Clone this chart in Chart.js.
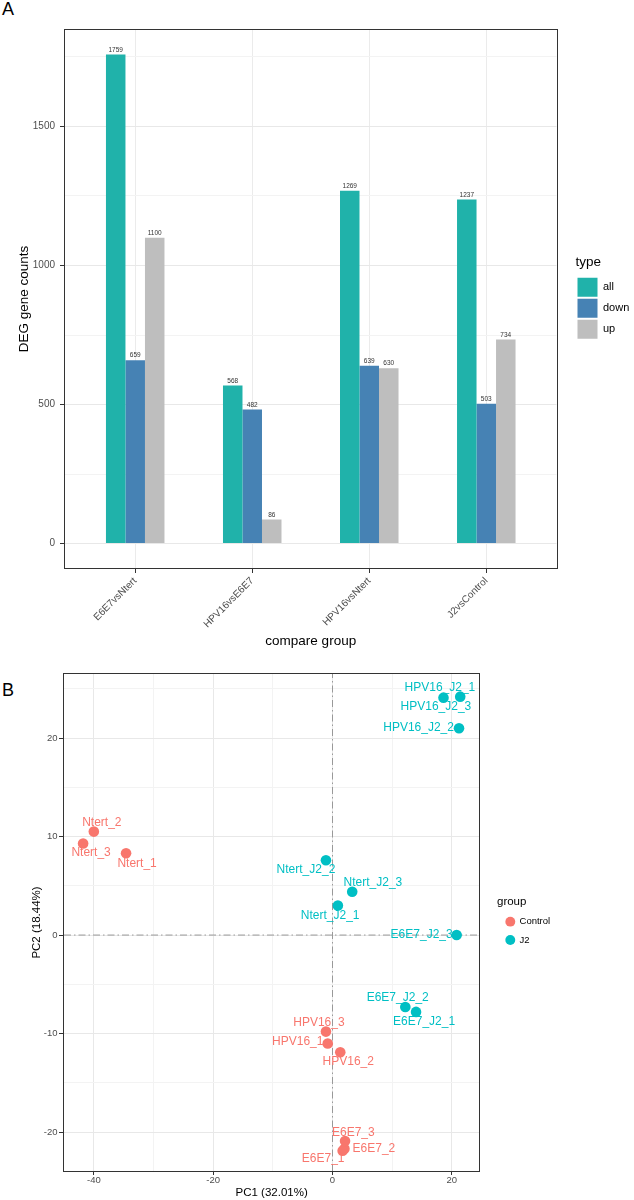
<!DOCTYPE html>
<html>
<head>
<meta charset="utf-8">
<script src="https://cdn.jsdelivr.net/npm/chart.js@4"></script>
<style>
	html, body { margin: 0; padding: 0; background: #fff; }
	body { width: 634px; height: 1200px; position: relative; overflow: hidden; font-family: 'Liberation Sans', Arial, sans-serif; }
	.panel-tag { position: absolute; left: 2px; font-size: 18px; line-height: 18px; color: #000; }
	#wrap-a { position: absolute; left: 0; top: 0; }
	#wrap-b { position: absolute; left: 0; top: 660px; }
</style>
</head>
<body>
<div class="panel-tag" style="top:0px">A</div>
<div class="panel-tag" style="top:681px">B</div>
<div id="wrap-a"><canvas id="deg-bars" width="634" height="655"></canvas></div>
<div id="wrap-b"><canvas id="pca" width="634" height="540"></canvas></div>
<script>
// A: DEG counts per comparison
const compareGroups = ["E6E7vsNtert", "HPV16vsE6E7", "HPV16vsNtert", "J2vsControl"];
const allCounts = [1759, 568, 1269, 1237];
const downCounts = [659, 482, 639, 503];
const upCounts = [1100, 86, 630, 734];
const countTicks = [0, 500, 1000, 1500];
const countMinorTicks = [250, 750, 1250, 1750];
const countRange = [-88, 1847];

// B: PCA
const controlSamples = ["Ntert_1", "Ntert_2", "Ntert_3", "HPV16_1", "HPV16_2", "HPV16_3", "E6E7_1", "E6E7_2", "E6E7_3"];
const controlPC1 = [-34.6, -40.0, -41.8, -0.8, 1.3, -1.1, 1.7, 2.0, 2.1];
const controlPC2 = [8.3, 10.5, 9.3, -11.0, -11.9, -9.8, -21.9, -21.7, -20.9];
const j2Samples = ["Ntert_J2_1", "Ntert_J2_2", "Ntert_J2_3", "HPV16_J2_1", "HPV16_J2_2", "HPV16_J2_3", "E6E7_J2_1", "E6E7_J2_2", "E6E7_J2_3"];
const j2PC1 = [0.9, -1.1, 3.3, 21.4, 21.2, 18.6, 14.0, 12.2, 20.8];
const j2PC2 = [3.0, 7.6, 4.4, 24.2, 21.0, 24.1, -7.8, -7.3, 0.0];
const pc1Ticks = [-40, -20, 0, 20];
const pc1MinorTicks = [-30, -10, 10];
const pc2Ticks = [-20, -10, 0, 10, 20];
const pc2MinorTicks = [-15, -5, 5, 15, 25];
const pc1Range = [-45.0, 24.6];
const pc2Range = [-23.95, 26.5];

// where the repelled text labels sit, in pixels from their point
const labelNudge = {
	Ntert_1: [11, 10], Ntert_2: [8, -9], Ntert_3: [8, 9.6],
	HPV16_1: [-30, -2], HPV16_2: [8, 9.6], HPV16_3: [-7, -9.4],
	E6E7_1: [-19.5, 8.3], E6E7_2: [29.5, 0], E6E7_3: [8.3, -8.7],
	Ntert_J2_1: [-7.7, 10.3], Ntert_J2_2: [-20, 9.7], Ntert_J2_3: [20.7, -9],
	HPV16_J2_1: [-20.3, -8.7], HPV16_J2_2: [-40.4, -0.7], HPV16_J2_3: [-7.6, 9.4],
	E6E7_J2_1: [8, 9.3], E6E7_J2_2: [-7.6, -9.4], E6E7_J2_3: [-35, 0]
};

Chart.defaults.font.family = "'Liberation Sans', Arial, sans-serif";
Chart.defaults.color = "#4d4d4d";
Chart.defaults.animation = false;

const fontStack = "'Liberation Sans', Arial, sans-serif";

const panelBorder = {
	id: "panelBorder",
	afterDraw(chart) {
		const { ctx, chartArea: a } = chart;
		ctx.save();
		ctx.strokeStyle = "#333";
		ctx.lineWidth = 1;
		const l = Math.round(a.left) - 0.5, t = Math.round(a.top) - 0.5;
		ctx.strokeRect(l, t, Math.round(a.right) - Math.round(a.left) + 1, Math.round(a.bottom) - Math.round(a.top) + 1);
		ctx.restore();
	}
};

const barValues = {
	id: "barValues",
	afterDatasetsDraw(chart) {
		const ctx = chart.ctx;
		ctx.save();
		ctx.font = "6.5px " + fontStack;
		ctx.fillStyle = "#333";
		ctx.textAlign = "center";
		ctx.textBaseline = "bottom";
		chart.data.datasets.forEach((ds, i) => {
			chart.getDatasetMeta(i).data.forEach((bar, j) => {
				ctx.fillText(ds.data[j].y, bar.x, bar.y - 1.5);
			});
		});
		ctx.restore();
	}
};

const sampleLabels = {
	id: "sampleLabels",
	afterDatasetsDraw(chart) {
		const ctx = chart.ctx;
		ctx.save();
		ctx.font = "12px " + fontStack;
		ctx.textAlign = "center";
		ctx.textBaseline = "middle";
		chart.data.datasets.forEach((ds, i) => {
			if (!ds.sampleNames) return;
			ctx.fillStyle = ds.backgroundColor;
			chart.getDatasetMeta(i).data.forEach((pt, j) => {
				const name = ds.sampleNames[j];
				const nudge = labelNudge[name] || [0, -10];
				ctx.fillText(name, pt.x + nudge[0], pt.y + nudge[1]);
			});
		});
		ctx.restore();
	}
};

const isMajor = (list) => (c) => c.tick && list.includes(c.tick.value);

function sortedTicks(major, minor) {
	return major.concat(minor).sort((a, b) => a - b).map(v => ({ value: v }));
}

// ---- A ----
const toPoints = (values) => values.map((v, i) => ({ x: i + 1, y: v }));

new Chart(document.querySelector("#deg-bars"), {
	type: "bar",
	data: {
		datasets: [{
			label: "all",
			data: toPoints(allCounts),
			backgroundColor: "#20B2AA"
		}, {
			label: "down",
			data: toPoints(downCounts),
			backgroundColor: "#4682B4"
		}, {
			label: "up",
			data: toPoints(upCounts),
			backgroundColor: "#BEBEBE"
		}]
	},
	options: {
		responsive: false,
		categoryPercentage: 0.5,
		barPercentage: 1,
		layout: { padding: { top: 30, right: 2.5, bottom: 0, left: 0 } },
		plugins: {
			tooltip: { enabled: false },
			legend: {
				position: "right",
				align: "start",
				maxWidth: 56,
				title: {
					display: true,
					text: "type",
					color: "#000",
					position: "start",
					font: { size: 13.5, lineHeight: 1 },
					padding: { top: 226, bottom: 6.3 }
				},
				labels: {
					boxWidth: 20,
					boxHeight: 19,
					padding: 2,
					color: "#000",
					font: { size: 11 }
				}
			}
		},
		scales: {
			x: {
				type: "linear",
				min: 0.4,
				max: 4.6,
				offset: false,
				afterBuildTicks: axis => { axis.ticks = compareGroups.map((g, i) => ({ value: i + 1 })); },
				afterFit: axis => { axis.height = 87; },
				grid: { offset: false, color: "#ebebeb", tickColor: "#333", tickLength: 5 },
				border: { display: false },
				ticks: {
					autoSkip: false,
					minRotation: 45,
					maxRotation: 45,
					padding: 2,
					color: "#4d4d4d",
					font: { size: 10 },
					callback: v => compareGroups[v - 1]
				},
				title: {
					display: true,
					text: "compare group",
					color: "#000",
					font: { size: 13.5 },
					padding: { top: 0, bottom: 6 }
				}
			},
			y: {
				min: countRange[0],
				max: countRange[1],
				afterBuildTicks: axis => { axis.ticks = sortedTicks(countTicks, countMinorTicks); },
				afterFit: axis => { axis.width = 65; },
				grid: {
					color: c => isMajor(countTicks)(c) ? "#e8e8e8" : "#f3f3f3",
					tickColor: c => isMajor(countTicks)(c) ? "#333" : "rgba(0,0,0,0)",
					tickLength: 5
				},
				border: { display: false },
				ticks: {
					padding: 5,
					color: "#4d4d4d",
					font: { size: 10 },
					callback: v => countTicks.includes(v) ? v : ""
				},
				title: {
					display: true,
					text: "DEG gene counts",
					color: "#000",
					font: { size: 13.5 },
					padding: { top: 16, bottom: 0 }
				}
			},
			gap: {
				type: "linear",
				axis: "y",
				position: "right",
				display: true,
				grid: { display: false },
				ticks: { display: false },
				border: { display: false },
				afterFit: axis => { axis.width = 19; }
			}
		}
	},
	plugins: [panelBorder, barValues]
});

// ---- B ----
const zeroLine = {
	type: "line",
	borderColor: "#999",
	borderWidth: 1,
	borderDash: [7, 3, 1.5, 3],
	pointRadius: 0,
	showLine: true,
	fill: false,
	order: 2
};

new Chart(document.querySelector("#pca"), {
	type: "scatter",
	data: {
		datasets: [{
			label: "Control",
			data: controlPC1.map((x, i) => ({ x: x, y: controlPC2[i] })),
			sampleNames: controlSamples,
			backgroundColor: "#F8766D",
			borderWidth: 0,
			pointRadius: 5.3,
			order: 1
		}, {
			label: "J2",
			data: j2PC1.map((x, i) => ({ x: x, y: j2PC2[i] })),
			sampleNames: j2Samples,
			backgroundColor: "#00BFC4",
			borderWidth: 0,
			pointRadius: 5.3,
			order: 1
		}, Object.assign({
			label: "pc2 = 0",
			data: pc1Range.map(x => ({ x: x, y: 0 }))
		}, zeroLine), Object.assign({
			label: "pc1 = 0",
			data: pc2Range.map(y => ({ x: 0, y: y }))
		}, zeroLine)]
	},
	options: {
		responsive: false,
		layout: { padding: { top: 14, right: 77, bottom: 0, left: 0 } },
		plugins: {
			tooltip: { enabled: false },
			legend: {
				position: "right",
				align: "start",
				maxWidth: 60,
				title: {
					display: true,
					text: "group",
					color: "#000",
					position: "start",
					font: { size: 11.5, lineHeight: 1 },
					padding: { top: 222.5, bottom: 0.1 }
				},
				labels: {
					usePointStyle: true,
					pointStyle: "circle",
					boxWidth: 9,
					boxHeight: 7,
					padding: 8.8,
					color: "#000",
					font: { size: 9.5 },
					filter: item => item.datasetIndex < 2
				}
			}
		},
		scales: {
			x: {
				type: "linear",
				min: pc1Range[0],
				max: pc1Range[1],
				afterBuildTicks: axis => { axis.ticks = sortedTicks(pc1Ticks, pc1MinorTicks); },
				afterFit: axis => { axis.height = 29; },
				grid: {
					color: c => isMajor(pc1Ticks)(c) ? "#e8e8e8" : "#f3f3f3",
					tickColor: c => isMajor(pc1Ticks)(c) ? "#333" : "rgba(0,0,0,0)",
					tickLength: 4
				},
				border: { display: false },
				ticks: {
					autoSkip: false,
					maxRotation: 0,
					padding: 0,
					color: "#4d4d4d",
					font: { size: 9.5 },
					callback: v => pc1Ticks.includes(v) ? v : ""
				},
				title: {
					display: true,
					text: "PC1 (32.01%)",
					color: "#000",
					font: { size: 11.5 },
					padding: { top: 0, bottom: 0 }
				}
			},
			y: {
				type: "linear",
				min: pc2Range[0],
				max: pc2Range[1],
				afterBuildTicks: axis => { axis.ticks = sortedTicks(pc2Ticks, pc2MinorTicks); },
				afterFit: axis => { axis.width = 64; },
				grid: {
					color: c => isMajor(pc2Ticks)(c) ? "#e8e8e8" : "#f3f3f3",
					tickColor: c => isMajor(pc2Ticks)(c) ? "#333" : "rgba(0,0,0,0)",
					tickLength: 5
				},
				border: { display: false },
				ticks: {
					padding: 1.5,
					color: "#4d4d4d",
					font: { size: 9.5 },
					callback: v => pc2Ticks.includes(v) ? v : ""
				},
				title: {
					display: true,
					text: "PC2 (18.44%)",
					color: "#000",
					font: { size: 11.5 },
					padding: { top: 29.8, bottom: 0 }
				}
			},
			gap: {
				type: "linear",
				axis: "y",
				position: "right",
				display: true,
				grid: { display: false },
				ticks: { display: false },
				border: { display: false },
				afterFit: axis => { axis.width = 17.7; }
			}
		}
	},
	plugins: [panelBorder, sampleLabels]
});
</script>
</body>
</html>
